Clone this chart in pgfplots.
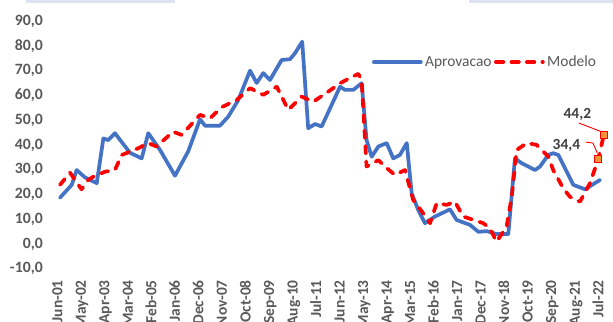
\documentclass[border=0pt]{standalone}
\usepackage{pgfplots}
\pgfplotsset{compat=1.18}
\usepackage{pgfplotstable}
\usepackage{fontspec}
\setmainfont{Carlito}

\definecolor{aprovblue}{HTML}{4472C4}
\definecolor{modelred}{HTML}{FF0000}
\definecolor{tickgray}{HTML}{595959}
\definecolor{labelgray}{HTML}{404040}
\definecolor{markfill}{HTML}{F79433}
\definecolor{stripblue}{HTML}{DCE4F2}

% month index: 0 = Jun-01
\pgfplotstableread{
m v
0 18.7
5.5 23.9
7.8 29.9
11.7 26.9
17.2 24.6
20.3 42.7
22.6 42.0
25.7 44.8
32.7 36.9
38.2 34.6
41.3 44.8
46.8 38.0
53.8 27.6
60.0 37.5
65.5 50.4
67.9 47.8
74.8 47.8
78.7 51.5
83.4 58.2
88.9 70.1
92.0 65.1
95.1 69.1
98.2 66.3
103.7 74.4
107.6 74.7
109.9 77.1
113.3 81.8
116.1 46.8
119.3 48.5
122.4 47.5
131.0 63.6
133.3 62.3
137.2 62.3
141.1 65.0
143.4 42.0
145.8 35.3
148.9 39.4
152.8 40.8
155.9 34.6
159.0 36.0
162.2 40.8
164.5 20.5
167.6 13.7
170.7 8.4
175.4 11.1
182.4 14.0
185.5 9.7
191.8 7.7
195.7 4.9
199.6 5.2
204.2 4.0
209.7 4.0
212.8 34.6
215.9 32.7
222.2 29.9
224.5 31.3
228.4 36.0
230.7 36.7
233.1 36.0
240.1 23.9
245.6 22.1
252.6 25.9
}\aprovacao

\pgfplotstableread{
m v
0 23.9
4.7 28.8
10.1 22.1
13.2 25.9
15.6 27.2
21.0 29.2
25.7 29.9
28.9 36.0
32.7 37.3
36.6 38.7
41.3 40.8
45.2 39.4
52.9 45.4
56.9 44.1
65.5 52.2
70.2 50.8
75.6 55.3
82.6 58.2
88.9 63.0
95.1 60.3
101.4 63.6
106.8 54.2
113.0 59.6
118.5 57.5
125.5 61.6
131.0 65.0
139.5 68.8
141.1 66.3
143.4 31.3
148.9 33.9
152.0 31.3
156.7 27.9
161.4 29.9
165.2 17.8
169.9 12.4
173.1 8.4
176.2 16.5
180.9 15.8
184.7 17.1
188.6 11.1
198.0 8.4
201.1 6.3
204.2 0.9
208.9 7.0
211.3 19.1
213.6 38.0
218.3 40.8
222.9 40.1
228.4 35.3
230.7 29.9
235.4 22.5
238.5 19.1
243.2 17.1
247.9 24.6
251.8 34.4
254.4 44.2
}\modelo

\begin{document}
\begin{tikzpicture}
\path[use as bounding box, clip] (0,0) rectangle (613bp,322bp);
\fill[stripblue] (26bp,319.3bp) rectangle (175bp,322bp);
\fill[stripblue] (469bp,319.3bp) rectangle (613bp,322bp);
\begin{axis}[
  at={(55.7bp,53.3bp)}, anchor=south west,
  scale only axis, width=551.6bp, height=247.3bp,
  xmin=-2, xmax=256, ymin=-10, ymax=90,
  axis line style={draw=none},
  major tick length=0pt,
  clip=false,
  xtick={0,11,...,253},
  xticklabels={Jun-01,May-02,Apr-03,Mar-04,Feb-05,Jan-06,Dec-06,Nov-07,Oct-08,Sep-09,Aug-10,Jul-11,Jun-12,May-13,Apr-14,Mar-15,Feb-16,Jan-17,Dec-17,Nov-18,Oct-19,Sep-20,Aug-21,Jul-22},
  ytick={-10,0,...,90},
  yticklabels={{-10,0},{0,0},{10,0},{20,0},{30,0},{40,0},{50,0},{60,0},{70,0},{80,0},{90,0}},
  yticklabel style={font=\bfseries\fontsize{15.8}{17}\selectfont, text=tickgray, anchor=east, inner sep=0pt},
  yticklabel shift=12.7bp,
  xticklabel style={font=\bfseries\fontsize{15.5}{17}\selectfont, text=tickgray, rotate=90, anchor=east, inner sep=0pt, text height=0.68em, text depth=0.2em},
  xticklabel shift=11.3bp,
  legend columns=2,
  legend style={draw=none, fill=none, at={(0.5734,0.836)}, anchor=west,
    inner sep=0pt, outer sep=0pt,
    font=\fontsize{15.5}{17}\selectfont, text=tickgray,
    nodes={inner xsep=2.5bp, inner ysep=0pt}},
  legend image code/.code={\draw[#1] (0bp,0bp) -- (47bp,0bp);},
]
\addplot[aprovblue, line width=3.7bp, line join=round, line cap=round] table[x=m, y=v] {\aprovacao};
\addlegendentry{Aprovacao}
\addplot[modelred, line width=3.7bp, line join=round, line cap=round, dash pattern=on 7.5bp off 8bp] table[x=m, y=v] {\modelo};
\addlegendentry{Modelo}

% highlighted final points of the model
\addplot[only marks, mark=square*, mark size=3.6bp, mark options={fill=markfill, draw=modelred, line width=1.1bp}, forget plot]
  coordinates {(251.8,34.4) (254.4,44.2)};

% value labels with leader lines
\draw[modelred, line width=0.9bp] (axis cs:242.7,48.9) -- (axis cs:253.0,45.5);
\draw[modelred, line width=0.9bp] (axis cs:246.0,41.2) -- (axis cs:249.3,40.8) -- (axis cs:251.3,36.8);
\node[font=\bfseries\fontsize{15.5}{17}\selectfont, text=labelgray, inner sep=0pt] at (axis cs:242.0,52.5) {44,2};
\node[font=\bfseries\fontsize{15.5}{17}\selectfont, text=labelgray, inner sep=0pt] at (axis cs:236.9,39.8) {34,4};
\end{axis}
\end{tikzpicture}
\end{document}
